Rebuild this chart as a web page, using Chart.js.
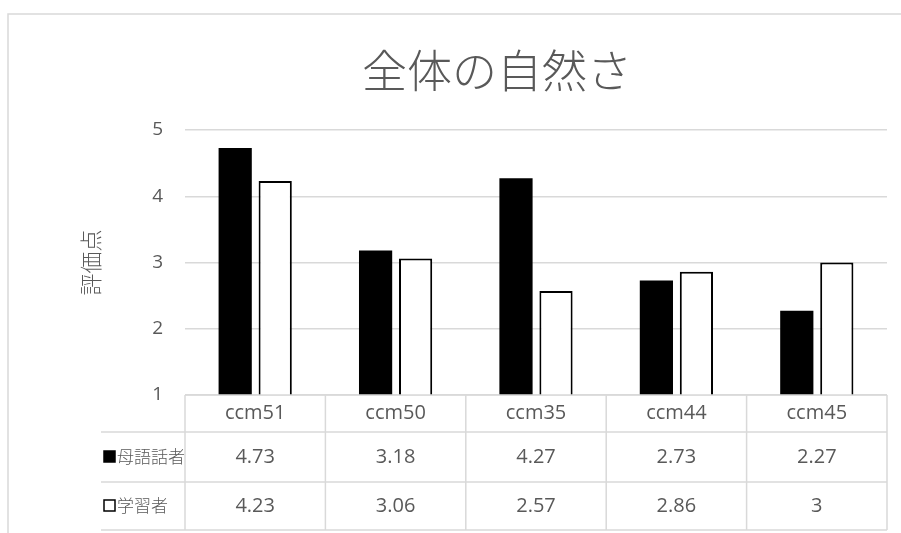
<!DOCTYPE html>
<html>
<head>
<meta charset="utf-8">
<script src="https://cdn.jsdelivr.net/npm/chart.js@4.4.0/dist/chart.umd.min.js"></script>
<style>
  html, body { margin: 0; padding: 0; background: #fff; }
  #wrap { width: 901px; height: 533px; }
</style>
</head>
<body>
<div id="wrap"><canvas id="myChart" width="901" height="533"></canvas></div>
<script>
const categories = ['ccm51', 'ccm50', 'ccm35', 'ccm44', 'ccm45'];
const nativeScores = [4.73, 3.18, 4.27, 2.73, 2.27];
const learnerScores = [4.23, 3.06, 2.57, 2.86, 3];
const seriesNames = ['母語話者', '学習者'];
const chartTitle = '全体の自然さ';
const yTitle = '評価点';
const yMin = 1, yMax = 5;

const GRAY = '#595959';
const LINE = '#d9d9d9';
const JP = "'Noto Sans CJK JP', 'Noto Sans', sans-serif";
const NUM = "'Open Sans', 'Noto Sans', sans-serif";

// frame, title and the data table under the plot
const tablePlugin = {
  id: 'dataTable',
  afterDraw(chart) {
    const ctx = chart.ctx;
    const area = chart.chartArea;
    const xs = chart.scales.x;
    ctx.save();

    ctx.strokeStyle = LINE;
    ctx.lineWidth = 1.5;
    ctx.strokeRect(8, 14, 1000, 600);

    ctx.fillStyle = GRAY;
    ctx.font = '300 45px ' + JP;
    ctx.textAlign = 'center';
    ctx.textBaseline = 'middle';
    ctx.fillText(chartTitle, 497, 71);

    const half = (xs.getPixelForValue(1) - xs.getPixelForValue(0)) / 2;
    const rows = [area.bottom, area.bottom + 37, area.bottom + 87, area.bottom + 135];
    const labelLeft = 104;

    ctx.strokeStyle = LINE;
    ctx.lineWidth = 1.5;
    ctx.beginPath();
    ctx.moveTo(area.left, rows[0]); ctx.lineTo(area.right, rows[0]);
    for (let r = 1; r < rows.length; r++) {
      ctx.moveTo(labelLeft - 3, rows[r]); ctx.lineTo(area.right, rows[r]);
    }
    for (let i = 0; i <= categories.length; i++) {
      const x = xs.getPixelForValue(i) - half;
      ctx.moveTo(x, rows[0]); ctx.lineTo(x, rows[3]);
    }
    ctx.stroke();

    ctx.fillStyle = GRAY;
    ctx.font = '20px ' + NUM;
    categories.forEach((c, i) => {
      const x = xs.getPixelForValue(i);
      ctx.fillText(c, x, (rows[0] + rows[1]) / 2);
      ctx.fillText(String(nativeScores[i]), x, (rows[1] + rows[2]) / 2);
      ctx.fillText(String(learnerScores[i]), x, (rows[2] + rows[3]) / 2);
    });

    // row labels with legend keys
    ctx.textAlign = 'left';
    ctx.font = '300 17px ' + JP;
    const keys = [{ y: (rows[1] + rows[2]) / 2, fill: '#000' }, { y: (rows[2] + rows[3]) / 2, fill: '#fff' }];
    keys.forEach((k, i) => {
      ctx.fillStyle = k.fill;
      ctx.fillRect(labelLeft, k.y - 6, 11, 11);
      ctx.strokeStyle = '#000';
      ctx.lineWidth = 1.5;
      ctx.strokeRect(labelLeft, k.y - 6, 11, 11);
      ctx.fillStyle = GRAY;
      ctx.fillText(seriesNames[i], labelLeft + 13, k.y);
    });
    ctx.restore();
  }
};

new Chart(document.getElementById('myChart'), {
  type: 'bar',
  data: {
    labels: categories,
    datasets: [{
      label: seriesNames[0],
      data: nativeScores,
      backgroundColor: '#000',
      borderWidth: 0,
      categoryPercentage: 0.57,
      barPercentage: 0.83
    }, {
      label: seriesNames[1],
      data: learnerScores,
      backgroundColor: '#fff',
      borderColor: '#000',
      borderWidth: 2,
      categoryPercentage: 0.57,
      barPercentage: 0.83
    }]
  },
  options: {
    responsive: false,
    animation: false,
    layout: { padding: { left: 0, right: 14, top: 130, bottom: 138 } },
    plugins: {
      legend: { display: false },
      tooltip: { enabled: false },
      title: { display: false }
    },
    scales: {
      x: { display: false },
      y: {
        min: yMin,
        max: yMax,
        ticks: { stepSize: 1, color: GRAY, font: { size: 19, family: NUM }, padding: 22 },
        grid: { color: LINE, lineWidth: 1.5, drawTicks: false },
        border: { display: false },
        title: { display: true, text: yTitle, color: GRAY, font: { size: 22, family: JP, weight: '300' }, padding: { top: 77, bottom: 0 } },
        afterFit(scale) { scale.width = 185; }
      }
    }
  },
  plugins: [tablePlugin]
});
</script>
</body>
</html>
